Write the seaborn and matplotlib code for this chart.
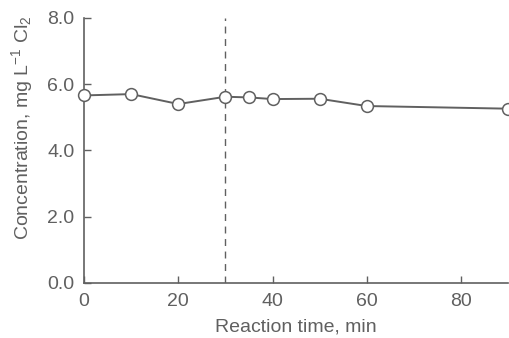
import matplotlib
matplotlib.use("Agg")
import matplotlib.pyplot as plt
import seaborn as sns
import pandas as pd

time_min = [0, 10, 20, 30, 35, 40, 50, 60, 90]
conc = [5.66, 5.70, 5.40, 5.62, 5.60, 5.55, 5.56, 5.34, 5.26]
xticks = [0, 20, 40, 60, 80]
yticks = [0.0, 2.0, 4.0, 6.0, 8.0]
vline_x = 30

sns.set_style("ticks")
plt.rcParams['font.family'] = ['Liberation Sans', 'DejaVu Sans']
plt.rcParams['mathtext.fontset'] = 'custom'
plt.rcParams['mathtext.rm'] = 'Liberation Sans'
plt.rcParams['mathtext.it'] = 'Liberation Sans:italic'
gray = "#606060"
fs = 14

fig = plt.figure(figsize=(5.10, 3.38), dpi=100)
ax = fig.add_axes([0.165, 0.163, 0.831, 0.784])

df = pd.DataFrame({"t": time_min, "c": conc})
ax.axvline(vline_x, color=gray, lw=1.0, ls=(0, (5, 4)), ymax=1.0)
sns.lineplot(data=df, x="t", y="c", ax=ax, color=gray, lw=1.4, marker="o",
             markersize=8.5, markerfacecolor="white", markeredgecolor=gray,
             markeredgewidth=1.1, clip_on=False, zorder=3)

ax.set_xlim(0, 90)
ax.set_ylim(0, 8)
ax.set_xticks(xticks)
ax.set_yticks(yticks)
ax.set_yticklabels([f"{v:.1f}" for v in yticks])
ax.set_xlabel("Reaction time, min", color=gray, fontsize=fs)
ax.set_ylabel("Concentration, mg L$^{-1}$ Cl$_2$", color=gray, fontsize=fs)
ax.xaxis.set_label_coords(0.5, -0.135)
ax.yaxis.set_label_coords(-0.117, 0.585)
ax.tick_params(direction="in", length=5, width=1.0, colors=gray, labelsize=fs,
               labelcolor=gray)
ax.tick_params(axis="x", pad=7)
ax.tick_params(axis="y", pad=7)
sns.despine(ax=ax)
for s in ["left", "bottom"]:
    ax.spines[s].set_color(gray)
    ax.spines[s].set_linewidth(1.2)

fig.savefig("out.png", dpi=100)
